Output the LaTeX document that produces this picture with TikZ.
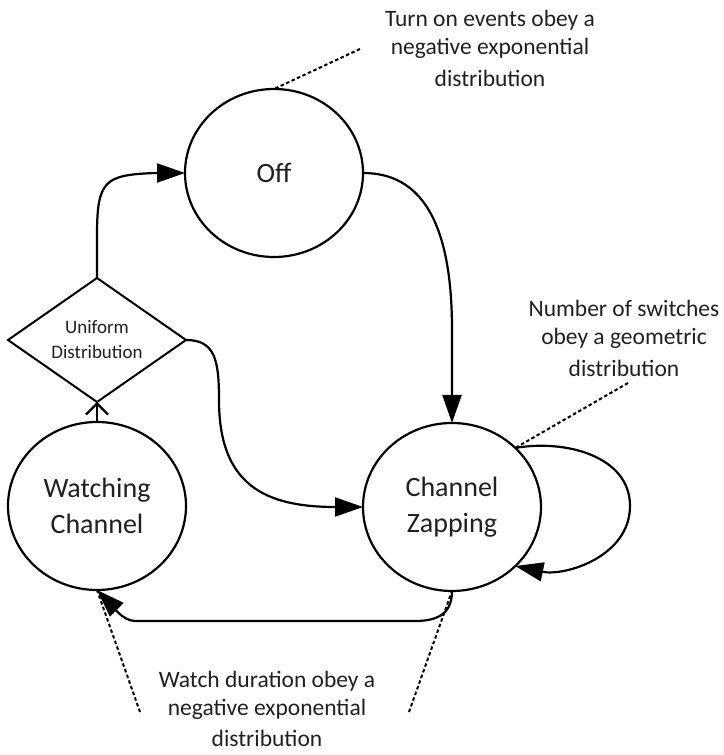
\documentclass[tikz,border=0pt]{standalone}
\usepackage{fontspec}
\setmainfont{Carlito}
\usetikzlibrary{arrows.meta,shapes.geometric}
\definecolor{ink}{RGB}{35,31,32}
\begin{document}
\begin{tikzpicture}[x=1pt,y=1pt,
  statebox/.style={ellipse, draw, line width=2.2pt, minimum width=178pt,
    minimum height=168pt, inner sep=0pt, outer sep=0pt, align=center,
    font=\fontsize{28}{36}\selectfont, text=ink},
  choicebox/.style={diamond, draw, line width=2pt, aspect=1.43,
    minimum width=178pt, minimum height=124pt, inner sep=0pt, outer sep=0pt,
    align=center, font=\fontsize{19}{25}\selectfont, text=ink},
  notetext/.style={align=center, inner sep=0pt,
    font=\fontsize{23.5}{28}\selectfont, text=ink},
  flowline/.style={line width=2.2pt, -{Triangle[length=28pt,width=19pt]}},
  guideline/.style={line width=2pt, dash pattern=on 3.5pt off 2.5pt},
]
\useasboundingbox (0,0) rectangle (723,755);

% states and the decision
\node[statebox] (off) at (274,582) {Off};
\node[statebox] (zap) at (452,248) {Channel\\Zapping};
\node[statebox] (watch) at (97,249) {Watching\\Channel};
\node[choicebox] (dia) at (97,415) {Uniform\\Distribution};

% annotations
\node[notetext, anchor=north] (n1) at (490,745)
  {Turn on events obey a\\negative exponential\\[4pt]distribution};
\node[notetext, anchor=north] (n2) at (624,455)
  {Number of switches\\obey a geometric\\[4pt]distribution};
\node[notetext, anchor=north] (n3) at (267,84)
  {Watch duration obey a\\negative exponential\\[3pt]distribution};

\coordinate (g1) at (360,706);
\coordinate (g2) at (628,372);
\coordinate (g3) at (140,43);
\coordinate (g4) at (409,43);

% transitions
\draw[flowline] (dia.north) -- (97,520)
  .. controls (97,575) and (105,580) .. (155,582) -- (off.west);
\draw[flowline] (off.east) .. controls (420,582) and (452,535) .. (452,425)
  -- (zap.north);
\draw[flowline] (dia.east) .. controls (215,415) and (219,395) .. (219,355)
  .. controls (219,270) and (265,248) .. (zap.west);
\draw[flowline] (zap.43) to[out=10,in=90] (630,249)
  to[out=-90,in=-12] (zap.-43);
\draw[flowline] (zap.south) .. controls (452,143) and (440,134) .. (415,134)
  -- (135,134) .. controls (122,134) and (110,152) .. (watch.south);
\draw[line width=2.2pt, -{Straight Barb[length=11pt,width=22pt]}]
  (watch.north) -- (dia.south);

% dotted leaders to the annotations
\draw[guideline] (g1) -- (off.north);
\draw[guideline] (g2) -- (zap.43);
\draw[guideline] (g3) -- (watch.south);
\draw[guideline] (g4) -- (zap.south);
\end{tikzpicture}
\end{document}
